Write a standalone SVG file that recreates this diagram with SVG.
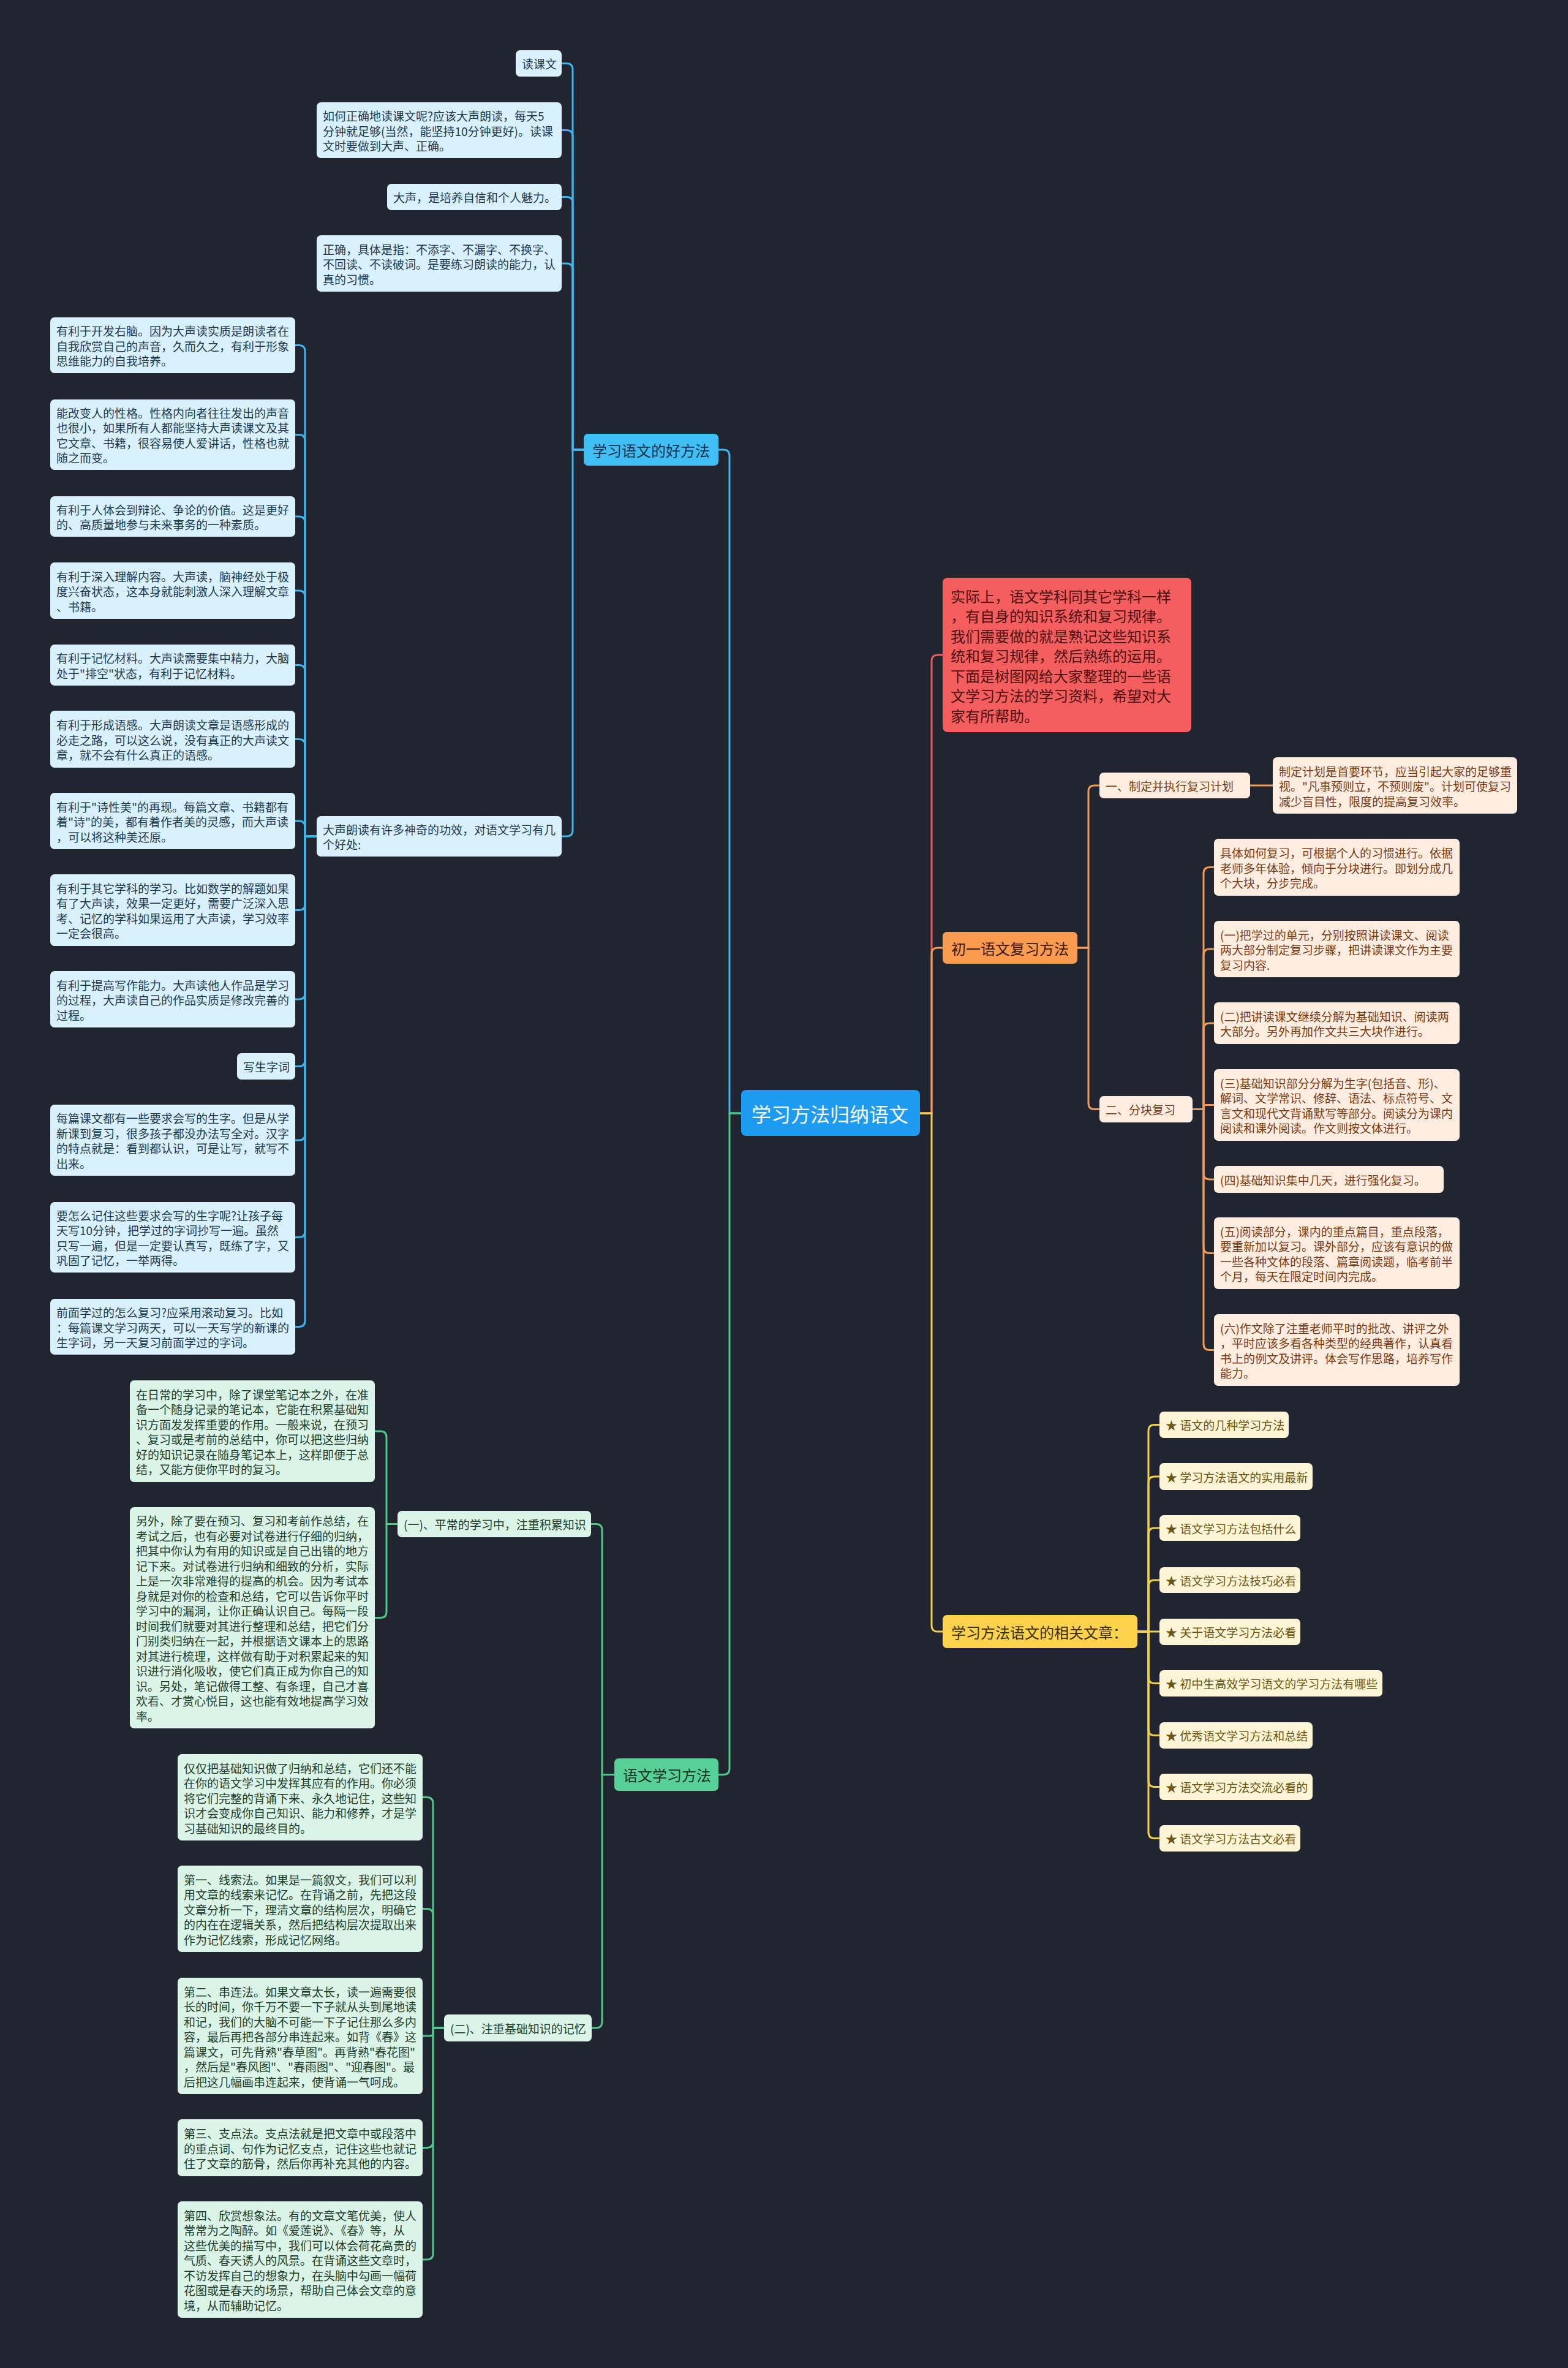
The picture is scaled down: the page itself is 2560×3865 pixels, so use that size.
<svg xmlns="http://www.w3.org/2000/svg" width="2560" height="3865" viewBox="0 0 2560 3865">
<style>
text{font-family:"Noto Sans CJK SC","Noto Sans",sans-serif;dominant-baseline:central;font-size:19px}
tspan{dominant-baseline:central}
.c path{fill:none;stroke-width:3;stroke-linecap:round}
.cb path{stroke:#3db5ee}.cg path{stroke:#4fc98a}.cr path{stroke:#ee5b5b}.co path{stroke:#f29a58}.cy path{stroke:#f1cf48}
.lb{fill:#d9f1fc}.lg{fill:#daf4e7}.lo{fill:#fdece0}.ly{fill:#fdf5d6}
.Lb{fill:#40bef6}.Lg{fill:#58d198}.Lo{fill:#fb9b52}.Ly{fill:#fdd34d}.Lr{fill:#f45e5e}.R{fill:#1d9bf0}
.tb{fill:#1d3a50}.tg{fill:#1f3d2b}.to{fill:#7a3b12}.ty{fill:#6a5612}.tr{fill:#4d1111}
.big{font-size:24px}
.root{font-size:32px;fill:#ffffff}
</style>
<rect x="0" y="0" width="2560" height="3865" fill="#212530"/>

<g id="connectors" class="c">
<g class="cb">
<path d="M1210 1817 H1191 V744 Q1191 734 1181 734 H1173"/>
<path d="M953 734 H935 V113.5 Q935 103.5 925 103.5 H917"/>
<path d="M953 734 H935 V222.5 Q935 212.5 925 212.5 H917"/>
<path d="M953 734 H935 V331.5 Q935 321.5 925 321.5 H917"/>
<path d="M953 734 H935 V440 Q935 430 925 430 H917"/>
<path d="M953 734 H935 V1355 Q935 1365 925 1365 H917"/>
<path d="M517 1365 H498 V573.5 Q498 563.5 488 563.5 H482"/>
<path d="M517 1365 H498 V719.5 Q498 709.5 488 709.5 H482"/>
<path d="M517 1365 H498 V853 Q498 843 488 843 H482"/>
<path d="M517 1365 H498 V974 Q498 964 488 964 H482"/>
<path d="M517 1365 H498 V1095.5 Q498 1085.5 488 1085.5 H482"/>
<path d="M517 1365 H498 V1216.5 Q498 1206.5 488 1206.5 H482"/>
<path d="M517 1365 H498 V1350 Q498 1340 488 1340 H482"/>
<path d="M517 1365 H498 V1475.5 Q498 1485.5 488 1485.5 H482"/>
<path d="M517 1365 H498 V1621 Q498 1631 488 1631 H482"/>
<path d="M517 1365 H498 V1730.5 Q498 1740.5 488 1740.5 H482"/>
<path d="M517 1365 H498 V1851 Q498 1861 488 1861 H482"/>
<path d="M517 1365 H498 V2009.5 Q498 2019.5 488 2019.5 H482"/>
<path d="M517 1365 H498 V2155.5 Q498 2165.5 488 2165.5 H482"/>
</g>
<g class="cg">
<path d="M1210 1817 H1191 V2886.5 Q1191 2896.5 1181 2896.5 H1173"/>
<path d="M1003 2896.5 H983 V2497.5 Q983 2487.5 973 2487.5 H965"/>
<path d="M1003 2896.5 H983 V3300 Q983 3310 973 3310 H966"/>
<path d="M649 2487.5 H631 V2346 Q631 2336 621 2336 H612"/>
<path d="M649 2487.5 H631 V2630.5 Q631 2640.5 621 2640.5 H612"/>
<path d="M725 3310 H707 V2943.5 Q707 2933.5 697 2933.5 H690"/>
<path d="M725 3310 H707 V3125.5 Q707 3115.5 697 3115.5 H690"/>
<path d="M725 3310 H707 V3318 Q707 3323 702 3323 H690"/>
<path d="M725 3310 H707 V3495.5 Q707 3505.5 697 3505.5 H690"/>
<path d="M725 3310 H707 V3678 Q707 3688 697 3688 H690"/>
</g>
<g class="cr">
<path d="M1502 1817 H1521 V1079 Q1521 1069 1531 1069 H1539"/>
</g>
<g class="co">
<path d="M1502 1817 H1521 V1557 Q1521 1547 1531 1547 H1539"/>
<path d="M1759 1547 H1777 V1292 Q1777 1282 1787 1282 H1795"/>
<path d="M1759 1547 H1777 V1800.5 Q1777 1810.5 1787 1810.5 H1795"/>
<path d="M2041 1282 H2078"/>
<path d="M1947 1810.5 H1965 V1425.5 Q1965 1415.5 1975 1415.5 H1982"/>
<path d="M1947 1810.5 H1965 V1559 Q1965 1549 1975 1549 H1982"/>
<path d="M1947 1810.5 H1965 V1680 Q1965 1670 1975 1670 H1982"/>
<path d="M1947 1810.5 H1965 V1807 Q1965 1803.5 1968.5 1803.5 H1982"/>
<path d="M1947 1810.5 H1965 V1915 Q1965 1925 1975 1925 H1982"/>
<path d="M1947 1810.5 H1965 V2035.5 Q1965 2045.5 1975 2045.5 H1982"/>
<path d="M1947 1810.5 H1965 V2193.5 Q1965 2203.5 1975 2203.5 H1982"/>
</g>
<g class="cy">
<path d="M1502 1817 H1521 V2653 Q1521 2663 1531 2663 H1539"/>
<path d="M1857 2663 H1875 V2335.5 Q1875 2325.5 1885 2325.5 H1893"/>
<path d="M1857 2663 H1875 V2420 Q1875 2410 1885 2410 H1893"/>
<path d="M1857 2663 H1875 V2504 Q1875 2494 1885 2494 H1893"/>
<path d="M1857 2663 H1875 V2589 Q1875 2579 1885 2579 H1893"/>
<path d="M1857 2663 H1893"/>
<path d="M1857 2663 H1875 V2737.5 Q1875 2747.5 1885 2747.5 H1893"/>
<path d="M1857 2663 H1875 V2822.5 Q1875 2832.5 1885 2832.5 H1893"/>
<path d="M1857 2663 H1875 V2906.5 Q1875 2916.5 1885 2916.5 H1893"/>
<path d="M1857 2663 H1875 V2990.5 Q1875 3000.5 1885 3000.5 H1893"/>
</g>
</g>

<g id="root"><rect class="R" x="1210" y="1779" width="292" height="75" rx="8"/><text class="root" x="1227" y="1816.5">学习方法归纳语文</text></g>

<g id="b0"><rect class="Lb" x="953" y="708" width="220" height="52" rx="7"/><text class="big" x="967" y="734" fill="#15324a">学习语文的好方法</text></g>
<g id="b1"><rect class="lb" x="842" y="82" width="75" height="43" rx="7"/><text class="tb" x="852" y="103.5">读课文</text></g>
<g id="b2"><rect class="lb" x="517" y="167" width="400" height="91" rx="7"/><text class="tb"><tspan x="527" y="188">如何正确地读课文呢?应该大声朗读，每天5</tspan><tspan x="527" y="212.5">分钟就足够(当然，能坚持10分钟更好)。读课</tspan><tspan x="527" y="237">文时要做到大声、正确。</tspan></text></g>
<g id="b3"><rect class="lb" x="632" y="300" width="285" height="43" rx="7"/><text class="tb" x="642" y="321.5">大声，是培养自信和个人魅力。</text></g>
<g id="b4"><rect class="lb" x="517" y="384" width="400" height="92" rx="7"/><text class="tb"><tspan x="527" y="405.5">正确，具体是指：不添字、不漏字、不换字、</tspan><tspan x="527" y="430">不回读、不读破词。是要练习朗读的能力，认</tspan><tspan x="527" y="454.5">真的习惯。</tspan></text></g>
<g id="b5"><rect class="lb" x="517" y="1332" width="400" height="66" rx="7"/><text class="tb"><tspan x="527" y="1352.75">大声朗读有许多神奇的功效，对语文学习有几</tspan><tspan x="527" y="1377.25">个好处:</tspan></text></g>
<g id="n1"><rect class="lb" x="82" y="518" width="400" height="91" rx="7"/><text class="tb"><tspan x="92" y="539">有利于开发右脑。因为大声读实质是朗读者在</tspan><tspan x="92" y="563.5">自我欣赏自己的声音，久而久之，有利于形象</tspan><tspan x="92" y="588">思维能力的自我培养。</tspan></text></g>
<g id="n2"><rect class="lb" x="82" y="652" width="400" height="115" rx="7"/><text class="tb"><tspan x="92" y="672.75">能改变人的性格。性格内向者往往发出的声音</tspan><tspan x="92" y="697.25">也很小，如果所有人都能坚持大声读课文及其</tspan><tspan x="92" y="721.75">它文章、书籍，很容易使人爱讲话，性格也就</tspan><tspan x="92" y="746.25">随之而变。</tspan></text></g>
<g id="n3"><rect class="lb" x="82" y="810" width="400" height="66" rx="7"/><text class="tb"><tspan x="92" y="830.75">有利于人体会到辩论、争论的价值。这是更好</tspan><tspan x="92" y="855.25">的、高质量地参与未来事务的一种素质。</tspan></text></g>
<g id="n4"><rect class="lb" x="82" y="918" width="400" height="92" rx="7"/><text class="tb"><tspan x="92" y="939.5">有利于深入理解内容。大声读，脑神经处于极</tspan><tspan x="92" y="964">度兴奋状态，这本身就能刺激人深入理解文章</tspan><tspan x="92" y="988.5">、书籍。</tspan></text></g>
<g id="n5"><rect class="lb" x="82" y="1052" width="400" height="67" rx="7"/><text class="tb"><tspan x="92" y="1073.25">有利于记忆材料。大声读需要集中精力，大脑</tspan><tspan x="92" y="1097.75">处于"排空"状态，有利于记忆材料。</tspan></text></g>
<g id="n6"><rect class="lb" x="82" y="1160" width="400" height="93" rx="7"/><text class="tb"><tspan x="92" y="1182">有利于形成语感。大声朗读文章是语感形成的</tspan><tspan x="92" y="1206.5">必走之路，可以这么说，没有真正的大声读文</tspan><tspan x="92" y="1231">章，就不会有什么真正的语感。</tspan></text></g>
<g id="n7"><rect class="lb" x="82" y="1294" width="400" height="92" rx="7"/><text class="tb"><tspan x="92" y="1315.5">有利于"诗性美"的再现。每篇文章、书籍都有</tspan><tspan x="92" y="1340">着"诗"的美，都有着作者美的灵感，而大声读</tspan><tspan x="92" y="1364.5">，可以将这种美还原。</tspan></text></g>
<g id="n8"><rect class="lb" x="82" y="1427" width="400" height="117" rx="7"/><text class="tb"><tspan x="92" y="1448.75">有利于其它学科的学习。比如数学的解题如果</tspan><tspan x="92" y="1473.25">有了大声读，效果一定更好，需要广泛深入思</tspan><tspan x="92" y="1497.75">考、记忆的学科如果运用了大声读，学习效率</tspan><tspan x="92" y="1522.25">一定会很高。</tspan></text></g>
<g id="n9"><rect class="lb" x="82" y="1585" width="400" height="92" rx="7"/><text class="tb"><tspan x="92" y="1606.5">有利于提高写作能力。大声读他人作品是学习</tspan><tspan x="92" y="1631">的过程，大声读自己的作品实质是修改完善的</tspan><tspan x="92" y="1655.5">过程。</tspan></text></g>
<g id="n10"><rect class="lb" x="387" y="1719" width="95" height="43" rx="7"/><text class="tb" x="397" y="1740.5">写生字词</text></g>
<g id="n11"><rect class="lb" x="82" y="1803" width="400" height="116" rx="7"/><text class="tb"><tspan x="92" y="1824.25">每篇课文都有一些要求会写的生字。但是从学</tspan><tspan x="92" y="1848.75">新课到复习，很多孩子都没办法写全对。汉字</tspan><tspan x="92" y="1873.25">的特点就是：看到都认识，可是让写，就写不</tspan><tspan x="92" y="1897.75">出来。</tspan></text></g>
<g id="n12"><rect class="lb" x="82" y="1962" width="400" height="115" rx="7"/><text class="tb"><tspan x="92" y="1982.75">要怎么记住这些要求会写的生字呢?让孩子每</tspan><tspan x="92" y="2007.25">天写10分钟，把学过的字词抄写一遍。虽然</tspan><tspan x="92" y="2031.75">只写一遍，但是一定要认真写，既练了字，又</tspan><tspan x="92" y="2056.25">巩固了记忆，一举两得。</tspan></text></g>
<g id="n13"><rect class="lb" x="82" y="2120" width="400" height="91" rx="7"/><text class="tb"><tspan x="92" y="2141">前面学过的怎么复习?应采用滚动复习。比如</tspan><tspan x="92" y="2165.5">：每篇课文学习两天，可以一天写学的新课的</tspan><tspan x="92" y="2190">生字词，另一天复习前面学过的字词。</tspan></text></g>

<g id="g0"><rect class="Lg" x="1003" y="2870" width="170" height="53" rx="7"/><text class="big" x="1017" y="2896.5" fill="#173322">语文学习方法</text></g>
<g id="ga"><rect class="lg" x="649" y="2466" width="316" height="43" rx="7"/><text class="tg" x="659" y="2487.5">(一)、平常的学习中，注重积累知识</text></g>
<g id="g1"><rect class="lg" x="212" y="2253" width="400" height="166" rx="7"/><text class="tg"><tspan x="222" y="2274.75">在日常的学习中，除了课堂笔记本之外，在准</tspan><tspan x="222" y="2299.25">备一个随身记录的笔记本，它能在积累基础知</tspan><tspan x="222" y="2323.75">识方面发发挥重要的作用。一般来说，在预习</tspan><tspan x="222" y="2348.25">、复习或是考前的总结中，你可以把这些归纳</tspan><tspan x="222" y="2372.75">好的知识记录在随身笔记本上，这样即便于总</tspan><tspan x="222" y="2397.25">结，又能方便你平时的复习。</tspan></text></g>
<g id="g2"><rect class="lg" x="212" y="2460" width="400" height="361" rx="7"/><text class="tg"><tspan x="222" y="2481.25">另外，除了要在预习、复习和考前作总结，在</tspan><tspan x="222" y="2505.75">考试之后，也有必要对试卷进行仔细的归纳，</tspan><tspan x="222" y="2530.25">把其中你认为有用的知识或是自己出错的地方</tspan><tspan x="222" y="2554.75">记下来。对试卷进行归纳和细致的分析，实际</tspan><tspan x="222" y="2579.25">上是一次非常难得的提高的机会。因为考试本</tspan><tspan x="222" y="2603.75">身就是对你的检查和总结，它可以告诉你平时</tspan><tspan x="222" y="2628.25">学习中的漏洞，让你正确认识自己。每隔一段</tspan><tspan x="222" y="2652.75">时间我们就要对其进行整理和总结，把它们分</tspan><tspan x="222" y="2677.25">门别类归纳在一起，并根据语文课本上的思路</tspan><tspan x="222" y="2701.75">对其进行梳理，这样做有助于对积累起来的知</tspan><tspan x="222" y="2726.25">识进行消化吸收，使它们真正成为你自己的知</tspan><tspan x="222" y="2750.75">识。另处，笔记做得工整、有条理，自己才喜</tspan><tspan x="222" y="2775.25">欢看、才赏心悦目，这也能有效地提高学习效</tspan><tspan x="222" y="2799.75">率。</tspan></text></g>
<g id="gb"><rect class="lg" x="725" y="3288" width="241" height="44" rx="7"/><text class="tg" x="735" y="3310">(二)、注重基础知识的记忆</text></g>
<g id="g3"><rect class="lg" x="290" y="2863" width="400" height="141" rx="7"/><text class="tg"><tspan x="300" y="2884.5">仅仅把基础知识做了归纳和总结，它们还不能</tspan><tspan x="300" y="2909">在你的语文学习中发挥其应有的作用。你必须</tspan><tspan x="300" y="2933.5">将它们完整的背诵下来、永久地记住，这些知</tspan><tspan x="300" y="2958">识才会变成你自己知识、能力和修养，才是学</tspan><tspan x="300" y="2982.5">习基础知识的最终目的。</tspan></text></g>
<g id="g4"><rect class="lg" x="290" y="3045" width="400" height="141" rx="7"/><text class="tg"><tspan x="300" y="3066.5">第一、线索法。如果是一篇叙文，我们可以利</tspan><tspan x="300" y="3091">用文章的线索来记忆。在背诵之前，先把这段</tspan><tspan x="300" y="3115.5">文章分析一下，理清文章的结构层次，明确它</tspan><tspan x="300" y="3140">的内在在逻辑关系，然后把结构层次提取出来</tspan><tspan x="300" y="3164.5">作为记忆线索，形成记忆网络。</tspan></text></g>
<g id="g5"><rect class="lg" x="290" y="3228" width="400" height="190" rx="7"/><text class="tg"><tspan x="300" y="3249.5">第二、串连法。如果文章太长，读一遍需要很</tspan><tspan x="300" y="3274">长的时间，你千万不要一下子就从头到尾地读</tspan><tspan x="300" y="3298.5">和记，我们的大脑不可能一下子记住那么多内</tspan><tspan x="300" y="3323">容，最后再把各部分串连起来。如背《春》这</tspan><tspan x="300" y="3347.5">篇课文，可先背熟"春草图"。再背熟"春花图"</tspan><tspan x="300" y="3372">，然后是"春风图"、"春雨图"、"迎春图"。最</tspan><tspan x="300" y="3396.5">后把这几幅画串连起来，使背诵一气呵成。</tspan></text></g>
<g id="g6"><rect class="lg" x="290" y="3459" width="400" height="93" rx="7"/><text class="tg"><tspan x="300" y="3481">第三、支点法。支点法就是把文章中或段落中</tspan><tspan x="300" y="3505.5">的重点词、句作为记忆支点，记住这些也就记</tspan><tspan x="300" y="3530">住了文章的筋骨，然后你再补充其他的内容。</tspan></text></g>
<g id="g7"><rect class="lg" x="290" y="3593" width="400" height="190" rx="7"/><text class="tg"><tspan x="300" y="3614.5">第四、欣赏想象法。有的文章文笔优美，使人</tspan><tspan x="300" y="3639">常常为之陶醉。如《爱莲说》、《春》等，从</tspan><tspan x="300" y="3663.5">这些优美的描写中，我们可以体会荷花高贵的</tspan><tspan x="300" y="3688">气质、春天诱人的风景。在背诵这些文章时，</tspan><tspan x="300" y="3712.5">不访发挥自己的想象力，在头脑中勾画一幅荷</tspan><tspan x="300" y="3737">花图或是春天的场景，帮助自己体会文章的意</tspan><tspan x="300" y="3761.5">境，从而辅助记忆。</tspan></text></g>

<g id="r0"><rect class="Lr" x="1539" y="943" width="406" height="252" rx="8"/><text class="big tr"><tspan x="1552" y="971.5">实际上，语文学科同其它学科一样</tspan><tspan x="1552" y="1004">，有自身的知识系统和复习规律。</tspan><tspan x="1552" y="1036.5">我们需要做的就是熟记这些知识系</tspan><tspan x="1552" y="1069">统和复习规律，然后熟练的运用。</tspan><tspan x="1552" y="1101.5">下面是树图网给大家整理的一些语</tspan><tspan x="1552" y="1134">文学习方法的学习资料，希望对大</tspan><tspan x="1552" y="1166.5">家有所帮助。</tspan></text></g>

<g id="o0"><rect class="Lo" x="1539" y="1521" width="220" height="52" rx="7"/><text class="big" x="1553" y="1547" fill="#3a1a06">初一语文复习方法</text></g>
<g id="oa"><rect class="lo" x="1795" y="1261" width="246" height="42" rx="7"/><text class="to" x="1805" y="1282">一、制定并执行复习计划</text></g>
<g id="op"><rect class="lo" x="2078" y="1236" width="399" height="92" rx="7"/><text class="to"><tspan x="2088" y="1257.5">制定计划是首要环节，应当引起大家的足够重</tspan><tspan x="2088" y="1282">视。"凡事预则立，不预则废"。计划可使复习</tspan><tspan x="2088" y="1306.5">减少盲目性，限度的提高复习效率。</tspan></text></g>
<g id="ob"><rect class="lo" x="1795" y="1789" width="152" height="43" rx="7"/><text class="to" x="1805" y="1810.5">二、分块复习</text></g>
<g id="o1"><rect class="lo" x="1982" y="1369" width="401" height="93" rx="7"/><text class="to"><tspan x="1992" y="1391">具体如何复习，可根据个人的习惯进行。依据</tspan><tspan x="1992" y="1415.5">老师多年体验，倾向于分块进行。即划分成几</tspan><tspan x="1992" y="1440">个大块，分步完成。</tspan></text></g>
<g id="o2"><rect class="lo" x="1982" y="1503" width="401" height="92" rx="7"/><text class="to"><tspan x="1992" y="1524.5">(一)把学过的单元，分别按照讲读课文、阅读</tspan><tspan x="1992" y="1549">两大部分制定复习步骤，把讲读课文作为主要</tspan><tspan x="1992" y="1573.5">复习内容.</tspan></text></g>
<g id="o3"><rect class="lo" x="1982" y="1636" width="401" height="68" rx="7"/><text class="to"><tspan x="1992" y="1657.75">(二)把讲读课文继续分解为基础知识、阅读两</tspan><tspan x="1992" y="1682.25">大部分。另外再加作文共三大块作进行。</tspan></text></g>
<g id="o4"><rect class="lo" x="1982" y="1745" width="401" height="117" rx="7"/><text class="to"><tspan x="1992" y="1766.75">(三)基础知识部分分解为生字(包括音、形)、</tspan><tspan x="1992" y="1791.25">解词、文学常识、修辞、语法、标点符号、文</tspan><tspan x="1992" y="1815.75">言文和现代文背诵默写等部分。阅读分为课内</tspan><tspan x="1992" y="1840.25">阅读和课外阅读。作文则按文体进行。</tspan></text></g>
<g id="o5"><rect class="lo" x="1982" y="1903" width="375" height="44" rx="7"/><text class="to" x="1992" y="1925">(四)基础知识集中几天，进行强化复习。</text></g>
<g id="o6"><rect class="lo" x="1982" y="1987" width="401" height="117" rx="7"/><text class="to"><tspan x="1992" y="2008.75">(五)阅读部分，课内的重点篇目，重点段落，</tspan><tspan x="1992" y="2033.25">要重新加以复习。课外部分，应该有意识的做</tspan><tspan x="1992" y="2057.75">一些各种文体的段落、篇章阅读题，临考前半</tspan><tspan x="1992" y="2082.25">个月，每天在限定时间内完成。</tspan></text></g>
<g id="o7"><rect class="lo" x="1982" y="2145" width="401" height="117" rx="7"/><text class="to"><tspan x="1992" y="2166.75">(六)作文除了注重老师平时的批改、讲评之外</tspan><tspan x="1992" y="2191.25">，平时应该多看各种类型的经典著作，认真看</tspan><tspan x="1992" y="2215.75">书上的例文及讲评。体会写作思路，培养写作</tspan><tspan x="1992" y="2240.25">能力。</tspan></text></g>

<g id="y0"><rect class="Ly" x="1539" y="2636" width="318" height="54" rx="7"/><text class="big" x="1553" y="2663" fill="#3a2e05">学习方法语文的相关文章：</text></g>
<g id="y1"><rect class="ly" x="1893" y="2304" width="211" height="43" rx="7"/><text class="ty" x="1903" y="2325.5">★ 语文的几种学习方法</text></g>
<g id="y2"><rect class="ly" x="1893" y="2388" width="250" height="44" rx="7"/><text class="ty" x="1903" y="2410">★ 学习方法语文的实用最新</text></g>
<g id="y3"><rect class="ly" x="1893" y="2473" width="230" height="42" rx="7"/><text class="ty" x="1903" y="2494">★ 语文学习方法包括什么</text></g>
<g id="y4"><rect class="ly" x="1893" y="2558" width="230" height="42" rx="7"/><text class="ty" x="1903" y="2579">★ 语文学习方法技巧必看</text></g>
<g id="y5"><rect class="ly" x="1893" y="2642" width="230" height="43" rx="7"/><text class="ty" x="1903" y="2663.5">★ 关于语文学习方法必看</text></g>
<g id="y6"><rect class="ly" x="1893" y="2726" width="364" height="43" rx="7"/><text class="ty" x="1903" y="2747.5">★ 初中生高效学习语文的学习方法有哪些</text></g>
<g id="y7"><rect class="ly" x="1893" y="2811" width="250" height="43" rx="7"/><text class="ty" x="1903" y="2832.5">★ 优秀语文学习方法和总结</text></g>
<g id="y8"><rect class="ly" x="1893" y="2895" width="250" height="43" rx="7"/><text class="ty" x="1903" y="2916.5">★ 语文学习方法交流必看的</text></g>
<g id="y9"><rect class="ly" x="1893" y="2979" width="230" height="43" rx="7"/><text class="ty" x="1903" y="3000.5">★ 语文学习方法古文必看</text></g>
</svg>
